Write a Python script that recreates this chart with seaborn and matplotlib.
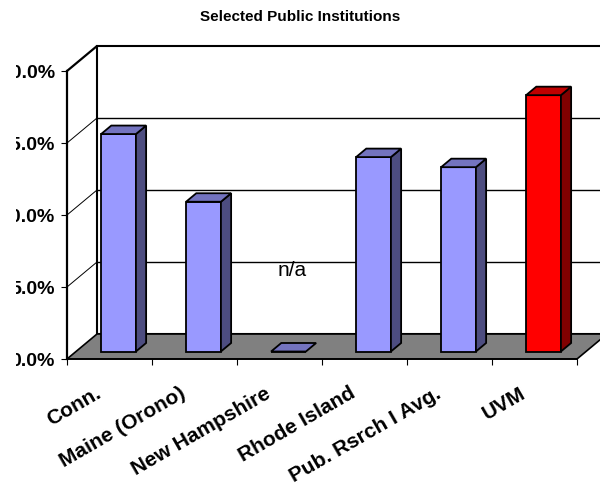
import numpy as np
import pandas as pd
import matplotlib
matplotlib.use("Agg")
import matplotlib.pyplot as plt
import matplotlib.transforms as mtransforms
from matplotlib.patches import Polygon
import seaborn as sns

# Data
institutions = ["Conn.", "Maine (Orono)", "New Hampshire", "Rhode Island",
                "Pub. Rsrch I Avg.", "UVM"]
rates = [15.1, 10.4, 0.0, 13.5, 12.8, 17.8]
not_available = ["New Hampshire"]
highlight = "UVM"
y_ticks = [0, 5, 10, 15, 20]
y_tick_labels = ["0.0%", "5.0%", "10.0%", "15.0%", "20.0%"]
title = "Selected Public Institutions"

df = pd.DataFrame({"Institution": institutions, "Rate": rates})

# colours (front, top, side) like the old Excel 3-D column chart
blue = ("#9999FF", "#7373BF", "#4D4D80")
red = ("#FF0000", "#BF0000", "#800000")
shades = {name: (red if name == highlight else blue) for name in institutions}

sns.set_theme(style="white")
plt.rcParams["font.family"] = ["Liberation Sans", "DejaVu Sans"]
plt.rcParams["text.color"] = "black"

fig = plt.figure(figsize=(6, 4.85), dpi=100)
ax = fig.add_axes([67 / 600, 125 / 485, 510 / 600, 288 / 485])

sns.barplot(data=df, x="Institution", y="Rate", hue="Institution",
            palette={k: v[0] for k, v in shades.items()}, saturation=1,
            width=0.41, legend=False, edgecolor="black", linewidth=1.3,
            ax=ax, zorder=3)
ax.set_xlim(-0.5, 5.5)
ax.set_ylim(0, 20)

# depth of the 3-D box, given in pixels and turned into data units
fig.canvas.draw()
bb = ax.get_window_extent()
px_x = bb.width / 6.0
px_y = bb.height / 20.0
depth_x = 30 / px_x
depth_y = 25 / px_y
f0, f1 = 0.30, 0.64

# back wall and floor
ax.add_patch(Polygon([(-0.5 + depth_x, depth_y), (-0.5 + depth_x, 20 + depth_y),
                      (5.5 + depth_x, 20 + depth_y), (5.5 + depth_x, depth_y)],
                     closed=True, facecolor="white", edgecolor="black",
                     linewidth=1.5, zorder=0, clip_on=False))
for v in y_ticks[1:-1]:
    ax.plot([-0.5 + depth_x, 5.5 + depth_x], [v + depth_y, v + depth_y],
            color="black", linewidth=1.0, zorder=0.5, clip_on=False)
    ax.plot([-0.5, -0.5 + depth_x], [v, v + depth_y], color="black",
            linewidth=0.7, zorder=0.5, clip_on=False)
ax.plot([-0.5, -0.5 + depth_x], [20, 20 + depth_y], color="black",
        linewidth=1.6, zorder=2, clip_on=False)
ax.add_patch(Polygon([(-0.5, 0), (5.5, 0), (5.5 + depth_x, depth_y),
                      (-0.5 + depth_x, depth_y)], closed=True,
                     facecolor="#808080", edgecolor="black", linewidth=1.2,
                     zorder=1, clip_on=False))

# push the bars back onto the floor and give them a top and a side
shift = mtransforms.Affine2D().translate(f0 * depth_x, f0 * depth_y)
bdx = (f1 - f0) * depth_x
bdy = (f1 - f0) * depth_y
for p, name in zip(ax.patches[:len(institutions)], institutions):
    if not isinstance(p, matplotlib.patches.Rectangle):
        continue
    p.set_transform(shift + ax.transData)
    x0 = p.get_x() + f0 * depth_x
    y0 = f0 * depth_y
    w = p.get_width()
    h = p.get_height()
    front, top, side = shades[name]
    if h > 0:
        ax.add_patch(Polygon([(x0 + w, y0), (x0 + w + bdx, y0 + bdy),
                              (x0 + w + bdx, y0 + h + bdy), (x0 + w, y0 + h)],
                             closed=True, facecolor=side, edgecolor="black",
                             linewidth=1.3, zorder=3, clip_on=False))
    ax.add_patch(Polygon([(x0, y0 + h), (x0 + w, y0 + h),
                          (x0 + w + bdx, y0 + h + bdy), (x0 + bdx, y0 + h + bdy)],
                         closed=True, facecolor=top, edgecolor="black",
                         linewidth=1.3, zorder=3, clip_on=False))

for name in not_available:
    i = institutions.index(name)
    ax.text(i + 0.15, 6.2, "n/a", ha="center", va="center", fontsize=15,
            color="black")

# axes, ticks and labels
sns.despine(ax=ax)
ax.spines["left"].set_linewidth(1.6)
ax.spines["bottom"].set_linewidth(1.2)
ax.spines["left"].set_color("black")
ax.spines["bottom"].set_color("black")
ax.set_xlabel("")
ax.set_ylabel("")
ax.set_yticks(y_ticks)
ax.set_yticklabels(y_tick_labels, fontsize=14, fontweight="bold")
ax.tick_params(axis="y", left=True, direction="out", length=4.3, width=0.8,
               pad=4.3, colors="black")
ax.set_xticks(np.arange(len(institutions)))
ax.set_xticks(np.arange(len(institutions) + 1) - 0.5, minor=True)
ax.set_xticklabels(institutions, fontsize=15, fontweight="bold", rotation=30,
                   ha="right", va="top", rotation_mode="anchor")
ax.tick_params(axis="x", which="major", bottom=True, length=0, pad=17,
               labelcolor="black")
ax.tick_params(axis="x", which="minor", bottom=True, direction="out",
               length=4.3, width=0.8, color="black")

label_shift = mtransforms.ScaledTranslation(-0.15, 0, fig.dpi_scale_trans)
for lab in ax.get_xticklabels():
    lab.set_transform(lab.get_transform() + label_shift)

# the picture is cut off at the left edge
cut = mtransforms.Bbox.from_extents(16, 0, 600, 485)
for lab in ax.get_yticklabels():
    lab.set_clip_box(cut)
    lab.set_clip_on(True)

fig.text(0.5, 1 - 17 / 485, title, ha="center", va="center", fontsize=11,
         fontweight="bold", color="black")

fig.savefig("out.png", dpi=100, facecolor="white")
